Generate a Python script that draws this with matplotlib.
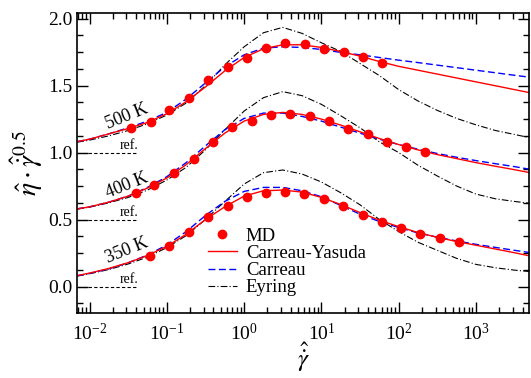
import matplotlib
matplotlib.use("Agg")
import matplotlib.pyplot as plt
from matplotlib.lines import Line2D
from matplotlib.ticker import MultipleLocator, LogLocator, NullFormatter, FormatStrFormatter

plt.rcParams['font.family'] = ['Liberation Serif', 'DejaVu Serif']
plt.rcParams['mathtext.fontset'] = 'stix'

# shear-rate grid used for the model curves
gam = [0.00695, 0.01, 0.0178, 0.0316, 0.0562, 0.1, 0.178, 0.316, 0.562, 1.0,
       1.78, 3.16, 5.62, 10, 17.8, 31.6, 56.2, 100, 178, 316, 562, 1000,
       1780, 3160, 4890]

# Carreau-Yasuda (shifted values as plotted)
cy_500 = [1.082, 1.10, 1.14, 1.18, 1.225, 1.29, 1.38, 1.49, 1.61, 1.71, 1.775, 1.805,
          1.805, 1.785, 1.755, 1.72, 1.68, 1.644, 1.615, 1.586, 1.557, 1.528, 1.499,
          1.470, 1.448]
cy_400 = [0.58, 0.595, 0.63, 0.675, 0.735, 0.81, 0.91, 1.03, 1.145, 1.235, 1.285, 1.30,
          1.285, 1.25, 1.205, 1.155, 1.105, 1.06, 1.02, 0.985, 0.955, 0.925, 0.898,
          0.872, 0.851]
cy_350 = [0.082, 0.10, 0.135, 0.178, 0.232, 0.30, 0.39, 0.50, 0.595, 0.675, 0.715, 0.72,
          0.705, 0.665, 0.612, 0.552, 0.495, 0.447, 0.403, 0.367, 0.336, 0.308, 0.28,
          0.252, 0.229]

# Carreau
ca_500 = [1.082, 1.10, 1.14, 1.185, 1.235, 1.30, 1.40, 1.52, 1.64, 1.73, 1.78, 1.79,
          1.785, 1.77, 1.748, 1.73, 1.71, 1.69, 1.672, 1.653, 1.634, 1.615, 1.596,
          1.577, 1.563]
ca_400 = [0.58, 0.595, 0.63, 0.675, 0.74, 0.82, 0.925, 1.05, 1.17, 1.255, 1.295, 1.295,
          1.27, 1.235, 1.19, 1.145, 1.10, 1.06, 1.025, 0.993, 0.965, 0.94, 0.917,
          0.895, 0.876]
ca_350 = [0.08, 0.098, 0.132, 0.177, 0.235, 0.31, 0.41, 0.53, 0.635, 0.71, 0.74, 0.74,
          0.715, 0.67, 0.605, 0.54, 0.485, 0.44, 0.40, 0.368, 0.34, 0.315, 0.292,
          0.27, 0.254]

# Eyring
ey_500 = [1.078, 1.093, 1.125, 1.165, 1.215, 1.28, 1.37, 1.50, 1.655, 1.79, 1.895, 1.935,
          1.89, 1.82, 1.755, 1.665, 1.575, 1.47, 1.385, 1.315, 1.255, 1.207, 1.165,
          1.135, 1.112]
ey_400 = [0.578, 0.592, 0.625, 0.665, 0.72, 0.795, 0.89, 1.02, 1.17, 1.31, 1.41, 1.455,
          1.425, 1.36, 1.275, 1.185, 1.08, 1.0, 0.905, 0.825, 0.75, 0.69, 0.655,
          0.635, 0.622]
ey_350 = [0.078, 0.095, 0.127, 0.168, 0.22, 0.29, 0.38, 0.50, 0.635, 0.765, 0.85, 0.87,
          0.84, 0.78, 0.70, 0.61, 0.50, 0.41, 0.33, 0.27, 0.21, 0.165, 0.14,
          0.122, 0.112]

# MD data
md_x_500 = [0.0344, 0.0619, 0.1076, 0.1954, 0.344, 0.619, 1.089, 1.936, 3.41, 6.14,
            10.9, 19.5, 34.5, 61.4]
md_y_500 = [1.187, 1.231, 1.319, 1.406, 1.540, 1.640, 1.707, 1.778, 1.816, 1.809,
            1.776, 1.749, 1.712, 1.669]
md_x_400 = [0.04, 0.0682, 0.125, 0.225, 0.393, 0.703, 1.265, 2.23, 3.96, 7.06, 12.6,
            22.3, 39.7, 70.0, 124, 221]
md_y_400 = [0.697, 0.759, 0.849, 0.951, 1.082, 1.190, 1.239, 1.279, 1.287, 1.272, 1.237,
            1.179, 1.140, 1.082, 1.045, 1.005]
md_x_350 = [0.0607, 0.1076, 0.1936, 0.344, 0.614, 1.081, 1.90, 3.38, 6.01, 10.7, 19.2,
            34.2, 60.8, 107, 190, 339, 597]
md_y_350 = [0.231, 0.306, 0.406, 0.522, 0.602, 0.672, 0.697, 0.707, 0.692, 0.652, 0.600,
            0.537, 0.481, 0.440, 0.393, 0.361, 0.333]

ref_levels = [0.0, 0.5, 1.0]
temps = ["350 K", "400 K", "500 K"]
temp_pos = [(0.0306, 0.266), (0.0306, 0.752), (0.0306, 1.266)]

fig = plt.figure(figsize=(5.31, 3.78), dpi=100)
ax = fig.add_axes([0.1456, 0.1712, 0.8512, 0.7936])

for cy, ca, ey in [(cy_350, ca_350, ey_350), (cy_400, ca_400, ey_400), (cy_500, ca_500, ey_500)]:
    ax.plot(gam, ey, color='black', lw=0.8, dashes=(6, 2, 1, 2))
    ax.plot(gam, ca, color='blue', lw=1.0, dashes=(5, 2.5))
    ax.plot(gam, cy, color='red', lw=1.0)

for mx, my in [(md_x_350, md_y_350), (md_x_400, md_y_400), (md_x_500, md_y_500)]:
    ax.plot(mx, my, 'o', color='red', ms=6, mec='red', ls='none')

ax.hlines(ref_levels, 0.00695, 0.042, colors='black', lw=0.8, linestyles=(0, (3, 2)))
for lv in ref_levels:
    ax.text(0.0245, lv + 0.004, "ref.", fontsize=10, ha='left', va='bottom')

for t, (tx, ty) in zip(temps, temp_pos):
    ax.text(tx, ty, t, fontsize=13, rotation=22, ha='center', va='center')

ax.set_xscale('log')
ax.set_xlim(0.00695, 4890)
ax.set_ylim(-0.2, 2.04)
ax.yaxis.set_major_locator(MultipleLocator(0.5))
ax.yaxis.set_minor_locator(MultipleLocator(0.125))
ax.yaxis.set_major_formatter(FormatStrFormatter('%.1f'))
ax.xaxis.set_major_locator(LogLocator(base=10, numticks=12))
ax.xaxis.set_minor_locator(LogLocator(base=10, subs=range(2, 10), numticks=12))
ax.xaxis.set_minor_formatter(NullFormatter())
ax.tick_params(which='both', direction='in', top=True, right=True, labelsize=14, width=1.0)
ax.tick_params(which='major', length=8)
ax.tick_params(which='minor', length=4)
ax.tick_params(axis='x', which='major', pad=7)
for s in ax.spines.values():
    s.set_linewidth(1.2)

ax.set_xlabel(r'$\hat{\dot{\gamma}}$', fontsize=18, labelpad=-3)
ax.set_ylabel(r'$\hat{\eta}\cdot\hat{\dot{\gamma}}^{0.5}$', fontsize=20, labelpad=2)

handles = [Line2D([], [], marker='o', color='red', ls='none', ms=6),
           Line2D([], [], color='red', lw=1.0),
           Line2D([], [], color='blue', lw=1.0, dashes=(5, 2.5)),
           Line2D([], [], color='black', lw=0.8, dashes=(6, 2, 1, 2))]
ax.legend(handles, ["MD", "Carreau-Yasuda", "Carreau", "Eyring"], loc='upper left',
          bbox_to_anchor=(0.29, 0.285), frameon=False, fontsize=13.5, handlelength=1.5,
          handletextpad=0.5, labelspacing=0.0, borderpad=0, borderaxespad=0)

fig.savefig("out.png", dpi=100)
